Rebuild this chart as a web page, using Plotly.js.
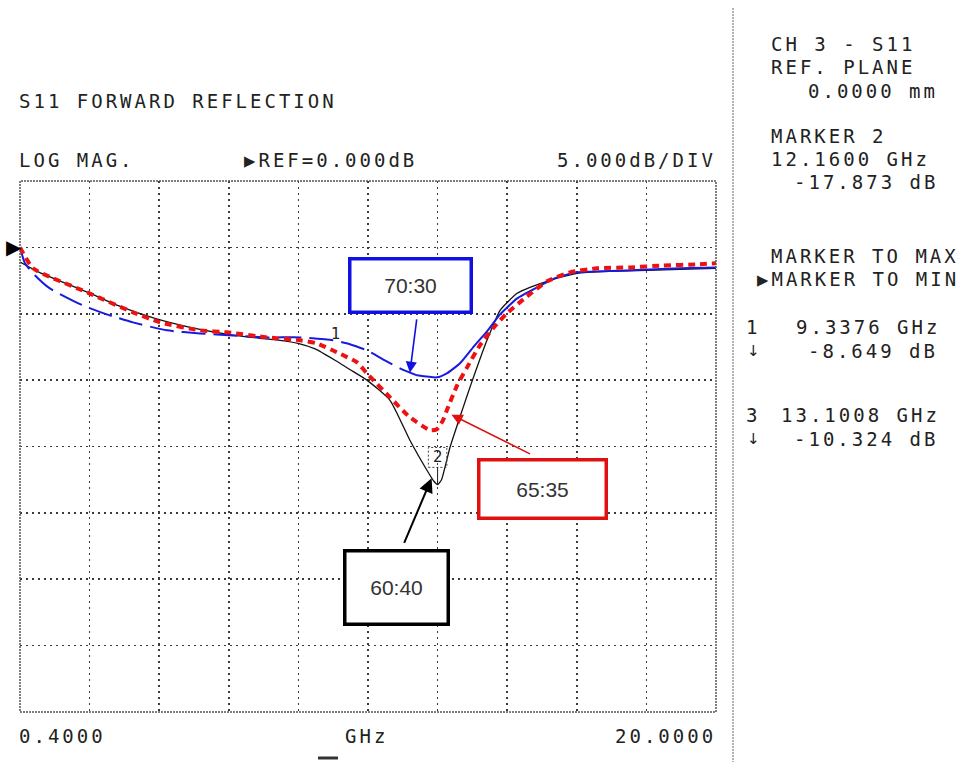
<!DOCTYPE html>
<html>
<head>
<meta charset="utf-8">
<script src="https://cdn.plot.ly/plotly-3.0.1.min.js"></script>
<style>
html,body{margin:0;padding:0;background:#fff;}
#chart{width:973px;height:762px;}
text.annotation-text[style*="DejaVu Sans Mono"]{letter-spacing:3px;}
</style>
</head>
<body>
<div id="chart"></div>
<script>
// Frequencies in GHz, S11 in dB
const freqBlack = [0.4,0.96,2.31,3.22,4.20,5.19,6.26,7.16,7.72,8.23,8.71,9.27,9.69,10.17,10.82,11.38,11.86,12.05,12.16,12.27,12.51,12.88,13.10,13.55,13.92,14.40,14.76,15.33,16.09,17.02,18.06,18.99,20.0];
const s11Black  = [-1.1,-1.9,-3.39,-4.44,-5.35,-6.02,-6.55,-6.85,-7.0,-7.23,-7.65,-8.5,-9.2,-10.0,-11.52,-14.53,-16.79,-17.6,-17.87,-17.5,-15.06,-12.05,-10.32,-7.0,-4.74,-3.46,-3.01,-2.48,-1.96,-1.81,-1.73,-1.66,-1.58];

const freqRed = [0.4,0.77,2.29,3.58,4.34,5.47,6.23,7.36,8.29,8.76,9.33,9.89,10.17,10.82,11.38,11.95,12.14,12.31,12.42,12.71,12.99,13.35,13.72,14.11,14.68,15.24,15.89,16.65,17.58,18.51,19.47,20.0];
const s11Red  = [0,-1.58,-3.39,-4.89,-5.65,-6.25,-6.40,-6.78,-7.0,-7.23,-7.91,-8.66,-9.49,-11.30,-12.80,-13.78,-13.7,-13.03,-12.27,-10.39,-9.04,-7.38,-6.10,-4.97,-3.69,-2.56,-1.88,-1.58,-1.51,-1.36,-1.28,-1.2];

const freqBlue = [0.4,0.54,0.82,1.24,2.17,2.93,3.58,4.54,5.47,6.40,7.36,8.29,9.21,9.69,10.17,10.62,11.10,11.58,12.14,12.42,12.79,13.16,13.55,13.92,14.40,14.96,15.52,16.09,17.58,18.99,20.0];
const s11Blue  = [0,-1.2,-2.1,-3.09,-4.37,-5.12,-5.65,-6.25,-6.48,-6.63,-6.78,-6.78,-7.0,-7.3,-7.76,-8.43,-9.11,-9.64,-9.79,-9.49,-8.73,-7.53,-6.33,-5.05,-3.84,-3.01,-2.26,-1.88,-1.73,-1.58,-1.51];
const blueSolidFrom = 17; // blue trace turns solid near the dip

const ratioLabels = ["70:30", "65:35", "60:40"];
const markerFreqs = [9.3376, 12.16, 13.1008];
const markerDB = [-8.649, -17.873, -10.324];

const MONO = "DejaVu Sans Mono";
const TXT = "#222";
const FS = 19;
const DOWN = "\u2193\uFE0E";

function paperText(text, x, y, xanchor, size, family) {
  return {text: text, xref: "paper", yref: "paper", x: x, y: y, xanchor: xanchor || "left", yanchor: "middle",
          showarrow: false, font: {family: family || MONO, size: size || FS, color: TXT}};
}
// pixel helpers for text placement
const px = v => (v - 20) / 696;
const py = v => (712 - v) / 531;

const traces = [
  {x: freqBlack, y: s11Black, mode: "lines", line: {color: "#111", width: 1.3, shape: "spline", smoothing: 0.5}, hoverinfo: "skip"},
  {x: freqBlue.slice(0, blueSolidFrom + 1), y: s11Blue.slice(0, blueSolidFrom + 1), mode: "lines",
   line: {color: "#1a1adf", width: 2, dash: "24px,8px", shape: "spline", smoothing: 0.5}, hoverinfo: "skip"},
  {x: freqBlue.slice(blueSolidFrom), y: s11Blue.slice(blueSolidFrom), mode: "lines",
   line: {color: "#1a1adf", width: 2, shape: "spline", smoothing: 0.5}, hoverinfo: "skip"},
  {x: freqRed, y: s11Red, mode: "lines", line: {color: "#ee1111", width: 4, dash: "7px,5px", shape: "spline", smoothing: 0.5}, hoverinfo: "skip"}
];

const annotations = [
  paperText("S11 FORWARD REFLECTION", px(17), py(101)),
  paperText("LOG MAG.", px(17), py(160)),
  paperText("▶REF=0.000dB", px(242), py(160)),
  paperText("5.000dB/DIV", px(718), py(160), "right"),
  paperText("CH 3 - S11", px(769), py(44)),
  paperText("REF. PLANE", px(769), py(67)),
  paperText("0.0000 mm", px(940), py(91), "right"),
  paperText("MARKER 2", px(769), py(136)),
  paperText("12.1600 GHz", px(769), py(159)),
  paperText("-17.873 dB", px(940), py(182), "right"),
  paperText("MARKER TO MAX", px(769), py(256)),
  paperText("▶MARKER TO MIN", px(755), py(279)),
  paperText("1", px(744), py(327)),
  paperText("9.3376 GHz", px(942), py(327), "right"),
  paperText(DOWN, px(745), py(351), "left", 15, "DejaVu Sans"),
  paperText("-8.649 dB", px(940), py(351), "right"),
  paperText("3", px(744), py(415)),
  paperText("13.1008 GHz", px(942), py(415), "right"),
  paperText(DOWN, px(745), py(439), "left", 15, "DejaVu Sans"),
  paperText("-10.324 dB", px(940), py(439), "right"),
  paperText("0.4000", px(17), py(736)),
  paperText("GHz", px(366), py(736), "center"),
  paperText("20.0000", px(718), py(736), "right"),
  // reference level pointer
  {text: "▶", xref: "paper", yref: "y", x: 0, y: 0, xanchor: "right", yanchor: "middle", showarrow: false,
   font: {family: "DejaVu Sans", size: 20, color: "#000"}, xshift: 4},
  // ratio callout boxes
  {text: ratioLabels[0], xref: "x", yref: "y", x: 11.41, y: -2.86, showarrow: false, width: 118, height: 50,
   bordercolor: "#1010e0", borderwidth: 3.5, borderpad: 0, bgcolor: "#fff", font: {family: "Liberation Sans", size: 21, color: "#333"}},
  {text: ratioLabels[1], xref: "x", yref: "y", x: 15.11, y: -18.2, showarrow: false, width: 124, height: 55,
   bordercolor: "#e01010", borderwidth: 3.5, borderpad: 0, bgcolor: "#fff", font: {family: "Liberation Sans", size: 21, color: "#333"}},
  {text: ratioLabels[2], xref: "x", yref: "y", x: 11.0, y: -25.6, showarrow: false, width: 100, height: 70,
   bordercolor: "#000", borderwidth: 3.5, borderpad: 0, bgcolor: "#fff", font: {family: "Liberation Sans", size: 21, color: "#333"}},
  // callout arrows
  {text: "", xref: "x", yref: "y", x: 11.38, y: -9.45, ax: 7, ay: -55, showarrow: true, arrowhead: 2, arrowsize: 1.4,
   arrowwidth: 1.6, arrowcolor: "#1010e0", standoff: 0},
  {text: "", xref: "x", yref: "y", x: 12.55, y: -12.6, ax: 80, ay: 40, showarrow: true, arrowhead: 2, arrowsize: 1.4,
   arrowwidth: 1.6, arrowcolor: "#e01010", standoff: 0},
  {text: "", xref: "x", yref: "y", x: 11.99, y: -17.4, ax: -28, ay: 66, showarrow: true, arrowhead: 2, arrowsize: 1.4,
   arrowwidth: 2, arrowcolor: "#000", standoff: 0},
  // marker labels
  {text: "1", xref: "x", yref: "y", x: markerFreqs[0] - 0.05, y: markerDB[0] + 2.1, showarrow: false,
   font: {family: "DejaVu Sans", size: 15, color: "#222"}},
  {text: "2", xref: "x", yref: "y", x: markerFreqs[1], y: markerDB[1] + 2.05, showarrow: false,
   font: {family: "DejaVu Sans", size: 15, color: "#222"}},
];

const shapes = [
  // plot frame (dotted)
  {type: "rect", xref: "paper", yref: "paper", x0: 0, x1: 1, y0: 0, y1: 1,
   line: {color: "#555", width: 1.5, dash: "2px,1px"}},
  // right panel separator
  {type: "line", xref: "paper", yref: "paper", x0: px(733), x1: px(733), y0: py(8), y1: py(762),
   line: {color: "#999", width: 1.5, dash: "2px,1px"}},
  // small bar under GHz
  {type: "line", xref: "paper", yref: "paper", x0: px(318), x1: px(338), y0: py(758), y1: py(758),
   line: {color: "#333", width: 3}},
  // marker 2 box and tick
  {type: "rect", xref: "x", yref: "y", x0: markerFreqs[1] - 0.26, x1: markerFreqs[1] + 0.26,
   y0: markerDB[1] + 1.3, y1: markerDB[1] + 2.8, line: {color: "#444", width: 1, dash: "2px,2px"}},
  {type: "line", xref: "x", yref: "y", x0: markerFreqs[1], x1: markerFreqs[1], y0: markerDB[1], y1: markerDB[1] + 1.3,
   line: {color: "#222", width: 1}}
];

const gridStyle = {gridcolor: "#3a3a3a", gridwidth: 1.6, griddash: "2px,4px"};

const layout = {
  width: 973, height: 762,
  margin: {l: 20, r: 257, t: 181, b: 50, pad: 0},
  paper_bgcolor: "#fff", plot_bgcolor: "#fff",
  showlegend: false,
  xaxis: Object.assign({range: [0.4, 20], tick0: 0.4, dtick: 1.96, showticklabels: false, ticks: "",
    zeroline: false, showline: false, fixedrange: true}, gridStyle),
  yaxis: Object.assign({range: [-35, 5], tick0: 0, dtick: 5, showticklabels: false, ticks: "",
    zeroline: false, showline: false, fixedrange: true}, gridStyle),
  annotations: annotations,
  shapes: shapes
};

Plotly.newPlot("chart", traces, layout, {staticPlot: true, displayModeBar: false});
</script>
</body>
</html>
